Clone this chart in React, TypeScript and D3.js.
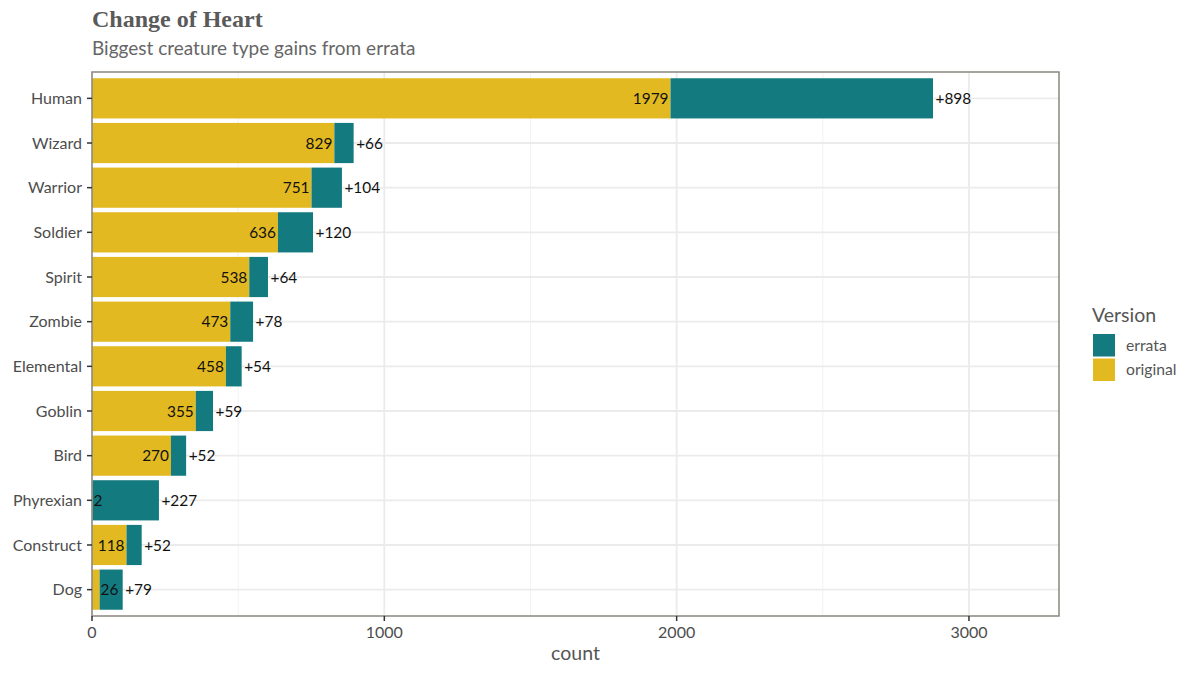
import React from "react";
import * as d3 from "d3";

const categories = ["Human", "Wizard", "Warrior", "Soldier", "Spirit", "Zombie", "Elemental", "Goblin", "Bird", "Phyrexian", "Construct", "Dog"];
const originalCounts = [1979, 829, 751, 636, 538, 473, 458, 355, 270, 2, 118, 26];
const errataGains = [898, 66, 104, 120, 64, 78, 54, 59, 52, 227, 52, 79];
const xTicks = [0, 1000, 2000, 3000];
const xMinorTicks = [500, 1500, 2500];
const legendItems = [
  { label: "errata", color: "#137B80" },
  { label: "original", color: "#E3B922" },
];

const W = 1200, H = 675;
const L = 92, R = 1059, T = 72, B = 616;
const FONT = "Lato, 'Open Sans', sans-serif";

export default function App() {
  const x = d3.scaleLinear().domain([0, 3308]).range([L, R]);
  const y = d3.scaleBand<string>().domain(categories).range([T, B]).paddingInner(0.1).paddingOuter(0.14);
  const bw = y.bandwidth();
  const teal = legendItems[0].color, gold = legendItems[1].color;
  return (
    <svg width={W} height={H} style={{ position: "absolute", left: 0, top: 0 }} fontFamily={FONT}>
      <rect width={W} height={H} fill="#fff" />
      <text x={92} y={27} fontFamily="'Liberation Serif', serif" fontWeight="bold" fontSize={24} fill="#5a5a5a">Change of Heart</text>
      <text x={92} y={55} fontSize={19} fill="#666">Biggest creature type gains from errata</text>
      {xMinorTicks.map(t => <line key={"m" + t} x1={x(t)} x2={x(t)} y1={T} y2={B} stroke="#f2f2f2" strokeWidth={1} />)}
      {xTicks.map(t => <line key={"g" + t} x1={x(t)} x2={x(t)} y1={T} y2={B} stroke="#ebebeb" strokeWidth={1.8} />)}
      {categories.map(c => <line key={"h" + c} x1={L} x2={R} y1={y(c)! + bw / 2} y2={y(c)! + bw / 2} stroke="#ebebeb" strokeWidth={1.8} />)}
      {categories.map((c, i) => {
        const o = originalCounts[i], e = errataGains[i];
        const yy = y(c)!;
        const cy = yy + bw / 2;
        const small = o < 100;
        return (
          <g key={c}>
            <rect x={x(0)} y={yy} width={x(o) - x(0)} height={bw} fill={gold} />
            <rect x={x(o)} y={yy} width={x(o + e) - x(o)} height={bw} fill={teal} />
            <text x={small ? x(o) + 1 : x(o) - 2} y={cy} dy="0.36em" textAnchor={small ? "start" : "end"} fontSize={15.4} fill="#111">{o}</text>
            <text x={x(o + e) + 2.5} y={cy} dy="0.36em" fontSize={15.4} fill="#111">{"+" + e}</text>
          </g>
        );
      })}
      <rect x={L} y={T} width={R - L} height={B - T} fill="none" stroke="#8a8680" strokeWidth={1.5} />
      {categories.map(c => (
        <g key={"yl" + c}>
          <line x1={L - 5} x2={L} y1={y(c)! + bw / 2} y2={y(c)! + bw / 2} stroke="#333" strokeWidth={1.5} />
          <text x={L - 10} y={y(c)! + bw / 2} dy="0.36em" textAnchor="end" fontSize={16} fill="#4d4d4d">{c}</text>
        </g>
      ))}
      {xTicks.map(t => (
        <g key={"xl" + t}>
          <line x1={x(t)} x2={x(t)} y1={B} y2={B + 5} stroke="#333" strokeWidth={1.5} />
          <text x={x(t)} y={B + 22} textAnchor="middle" fontSize={16} fill="#4d4d4d">{t}</text>
        </g>
      ))}
      <text x={(L + R) / 2} y={660} textAnchor="middle" fontSize={19.5} fill="#555">count</text>
      <text x={1092} y={322} fontSize={19.5} fill="#555">Version</text>
      {legendItems.map((it, i) => (
        <g key={it.label}>
          <rect x={1093} y={334 + i * 24.5} width={22} height={22.5} fill={it.color} />
          <text x={1126} y={345 + i * 24.5} dy="0.36em" fontSize={15.7} fill="#555">{it.label}</text>
        </g>
      ))}
    </svg>
  );
}
